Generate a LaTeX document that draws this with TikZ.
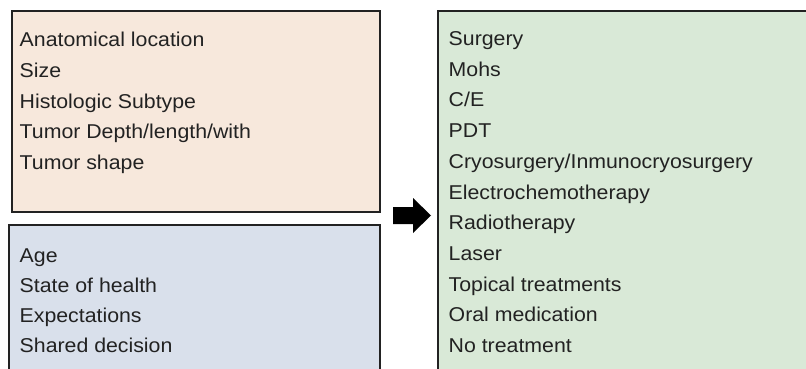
\documentclass[tikz,border=0pt]{standalone}
\usepackage{fontspec}
\setmainfont{Liberation Sans}[FakeStretch=1.065]
\usepackage{tikz}
\definecolor{peach}{HTML}{F7E8DC}
\definecolor{steel}{HTML}{D9E0EB}
\definecolor{mint}{HTML}{D9E9D7}
\definecolor{ink}{HTML}{222222}
\tikzset{
% boxes and the text lines inside them
group box/.style={draw=ink,line width=2pt},
item/.style={anchor=base west,inner sep=0,text=ink,font=\fontsize{20}{24}\selectfont}
}

\begin{document}
\begin{tikzpicture}[x=1pt,y=-1pt]
\clip (0,0) rectangle (806,369);
% The boxes
\draw[group box,fill=peach] (12,11) rectangle (380,212);
\draw[group box,fill=steel] (9,225) rectangle (380,390);
\draw[group box,fill=mint] (438,11) rectangle (830,390);
% tumor factors
\foreach \t [count=\i] in {Anatomical location,Size,Histologic Subtype,Tumor Depth/length/with,Tumor shape}
\node(tum-\i)[item] at (19.5,{46.5+30.8*(\i-1)}){\t};
% patient factors
\foreach \t [count=\i] in {Age,State of health,Expectations,Shared decision}
\node(pat-\i)[item] at (19.5,{262+30*(\i-1)}){\t};
% treatments
\foreach \t [count=\i] in {Surgery,Mohs,C/E,PDT,Cryosurgery/Inmunocryosurgery,Electrochemotherapy,Radiotherapy,Laser,Topical treatments,Oral medication,No treatment}
\node(trt-\i)[item] at (448.5,{45.5+30.7*(\i-1)}){\t};
% the arrow
\fill[black] (393,207) -- (413,207) -- (413,198) -- (431,215.5) -- (413,233) -- (413,224) -- (393,224) -- cycle;
\end{tikzpicture}
\end{document}
